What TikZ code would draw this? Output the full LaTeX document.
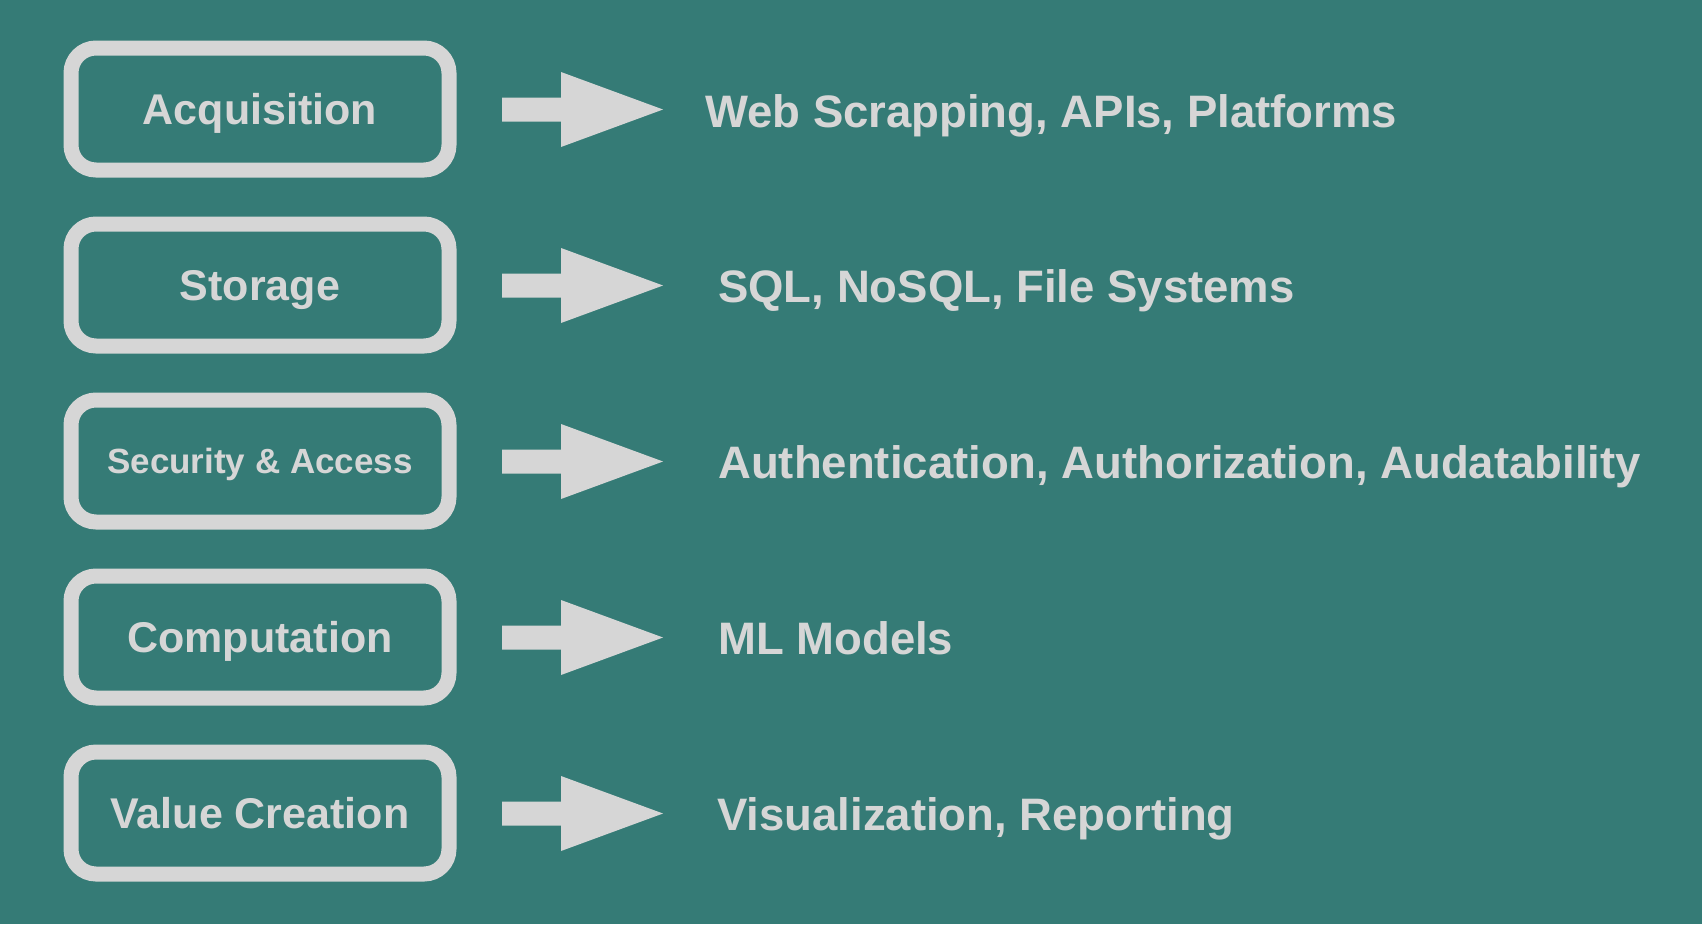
\documentclass[tikz,border=0pt]{standalone}
\usepackage{fontspec}
\setmainfont{Liberation Sans}
\definecolor{bg}{RGB}{53,123,118}
\definecolor{fg}{RGB}{214,214,214}
\begin{document}
\begin{tikzpicture}[x=1pt,y=-1pt,
  stagebox/.style={draw=fg, line width=15pt, rounded corners=25pt,
    minimum width=378pt, minimum height=122pt, text=fg, inner sep=0pt,
    font=\bfseries\fontsize{43}{50}\selectfont, text height=31pt, text depth=0pt},
  smalltext/.style={font=\bfseries\fontsize{35}{42}\selectfont, text height=25pt},
  detail/.style={anchor=base west, text=fg, inner sep=0pt,
    font=\bfseries\fontsize{45.5}{54}\selectfont},
  blockarrow/.style={fill=fg}]
\fill[bg] (0,0) rectangle (1702,924);
\useasboundingbox (0,0) rectangle (1702,924);

\node[stagebox] (b1) at (260,109) {Acquisition};
\node[stagebox] (b2) at (260,285) {Storage};
\node[stagebox,smalltext] (b3) at (260,461) {Security \& Access};
\node[stagebox] (b4) at (260,637) {Computation};
\node[stagebox] (b5) at (260,813) {Value Creation};

\node[detail] (d1) at (705,127.5) {Web Scrapping, APIs, Platforms};
\node[detail] (d2) at (718,302.5) {SQL, NoSQL, File Systems};
\node[detail] (d3) at (718,478.5) {Authentication, Authorization, Audatability};
\node[detail] (d4) at (718,654.5) {ML Models};
\node[detail] (d5) at (717,830.5) {Visualization, Reporting};

\foreach \y in {109.5,285.5,461.5,637.5,813.5}{
  \fill[blockarrow] (502,\y-12) -- (561,\y-12) -- (561,\y-37.5) -- (663,\y)
    -- (561,\y+37.5) -- (561,\y+12) -- (502,\y+12) -- cycle;
}
\end{tikzpicture}
\end{document}
